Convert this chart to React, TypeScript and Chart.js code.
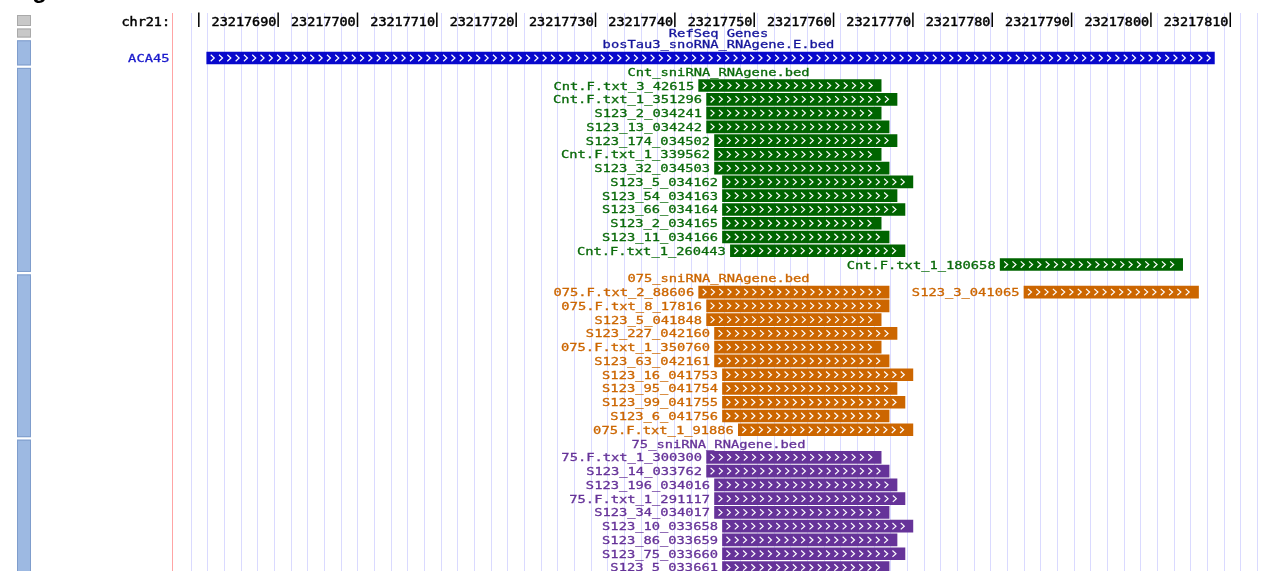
import React, { useEffect, useRef } from 'react';
import { Chart, registerables } from 'chart.js';

Chart.register(...registerables);

// ---------------- data ----------------
const chromLabel = 'chr21:';
const rulerTicks = [23217680, 23217690, 23217700, 23217710, 23217720, 23217730, 23217740, 23217750, 23217760, 23217770, 23217780, 23217790, 23217800, 23217810];
const rulerLabels = ['', '23217690', '23217700', '23217710', '23217720', '23217730', '23217740', '23217750', '23217760', '23217770', '23217780', '23217790', '23217800', '23217810'];

const refSeqTitle = 'RefSeq Genes';

const snoTitle = 'bosTau3_snoRNA_RNAgene.E.bed';
const snoNames = ['ACA45'];
const snoStarts = [23217681];
const snoEnds = [23217808];
const snoLanes = [0];

const cntTitle = 'Cnt_sniRNA_RNAgene.bed';
const cntNames = ['Cnt.F.txt_3_42615', 'Cnt.F.txt_1_351296', 'S123_2_034241', 'S123_13_034242', 'S123_174_034502', 'Cnt.F.txt_1_339562', 'S123_32_034503', 'S123_5_034162', 'S123_54_034163', 'S123_66_034164', 'S123_2_034165', 'S123_11_034166', 'Cnt.F.txt_1_260443', 'Cnt.F.txt_1_180658'];
const cntStarts = [23217743, 23217744, 23217744, 23217744, 23217745, 23217745, 23217745, 23217746, 23217746, 23217746, 23217746, 23217746, 23217747, 23217781];
const cntEnds = [23217766, 23217768, 23217766, 23217767, 23217768, 23217766, 23217767, 23217770, 23217768, 23217769, 23217766, 23217767, 23217769, 23217804];
const cntLanes = [0, 1, 2, 3, 4, 5, 6, 7, 8, 9, 10, 11, 12, 13];

const o75Title = '075_sniRNA_RNAgene.bed';
const o75Names = ['075.F.txt_2_88606', 'S123_3_041065', '075.F.txt_8_17816', 'S123_5_041848', 'S123_227_042160', '075.F.txt_1_350760', 'S123_63_042161', 'S123_16_041753', 'S123_95_041754', 'S123_99_041755', 'S123_6_041756', '075.F.txt_1_91886'];
const o75Starts = [23217743, 23217784, 23217744, 23217744, 23217745, 23217745, 23217745, 23217746, 23217746, 23217746, 23217746, 23217748];
const o75Ends = [23217767, 23217806, 23217767, 23217766, 23217768, 23217766, 23217767, 23217770, 23217768, 23217769, 23217767, 23217770];
const o75Lanes = [0, 0, 1, 2, 3, 4, 5, 6, 7, 8, 9, 10];

const p75Title = '75_sniRNA_RNAgene.bed';
const p75Names = ['75.F.txt_1_300300', 'S123_14_033762', 'S123_196_034016', '75.F.txt_1_291117', 'S123_34_034017', 'S123_10_033658', 'S123_86_033659', 'S123_75_033660', 'S123_5_033661'];
const p75Starts = [23217744, 23217744, 23217745, 23217745, 23217745, 23217746, 23217746, 23217746, 23217746];
const p75Ends = [23217766, 23217767, 23217768, 23217769, 23217767, 23217770, 23217768, 23217769, 23217767];
const p75Lanes = [0, 1, 2, 3, 4, 5, 6, 7, 8];

// ---------------- styling / layout ----------------
const W = 1262;
const H = 571;
const X_MIN = 23217677;
const X_MAX = 23217814;
const Y_MIN = -0.34;
const Y_MAX = 40.255;
const RULER_ROW = 0.35;
const REFSEQ_ROW = 1.15;
const LABEL_AREA_RIGHT = 172.5;
const GRID_START = 190.7;
const GRID_STEP = 16.66;
const GRID_TOP = 13;
const MONO = '"DejaVu Sans Mono", monospace';
const LABEL_FONT = `11px ${MONO}`;
const RULER_FONT = `12px ${MONO}`;
const SX = 1.25;
const CHEVRON_STEP = 8.3;

interface Track {
  title: string;
  titleColor: string;
  color: string;
  textColor: string;
  names: string[];
  starts: number[];
  ends: number[];
  lanes: number[];
  gutterLabels: boolean;
  titleRow: number;
  lastRow: number;
}

function buildTracks(): Track[] {
  const defs = [
    { title: snoTitle, titleColor: '#15159c', color: '#0808cc', textColor: '#1a1acc', names: snoNames, starts: snoStarts, ends: snoEnds, lanes: snoLanes, gutterLabels: true },
    { title: cntTitle, titleColor: '#0b6b0b', color: '#006400', textColor: '#0b6b0b', names: cntNames, starts: cntStarts, ends: cntEnds, lanes: cntLanes, gutterLabels: false },
    { title: o75Title, titleColor: '#cc6600', color: '#cc6600', textColor: '#cc6600', names: o75Names, starts: o75Starts, ends: o75Ends, lanes: o75Lanes, gutterLabels: false },
    { title: p75Title, titleColor: '#663399', color: '#663399', textColor: '#663399', names: p75Names, starts: p75Starts, ends: p75Ends, lanes: p75Lanes, gutterLabels: false },
  ];
  let row = 2;
  return defs.map((d) => {
    const titleRow = row;
    const nLanes = Math.max(...d.lanes) + 1;
    const lastRow = titleRow + nLanes;
    row = lastRow + 1;
    return { ...d, titleRow, lastRow };
  });
}

function drawText(ctx: CanvasRenderingContext2D, text: string, x: number, baseline: number, align: CanvasTextAlign, font: string, color: string, sx: number, stroke = 0) {
  ctx.save();
  ctx.font = font;
  ctx.fillStyle = color;
  ctx.textAlign = align;
  ctx.textBaseline = 'alphabetic';
  ctx.translate(x, baseline);
  ctx.scale(sx, 1);
  ctx.fillText(text, 0, 0);
  if (stroke > 0) {
    ctx.strokeStyle = color;
    ctx.lineWidth = stroke;
    ctx.strokeText(text, 0, 0);
  }
  ctx.restore();
}

export default function App() {
  const ref = useRef<HTMLCanvasElement | null>(null);

  useEffect(() => {
    const canvas = ref.current;
    if (!canvas) return;
    const tracks = buildTracks();

    const backdrop = {
      id: 'ucscBackdrop',
      beforeDatasetsDraw(chart: any) {
        const ctx: CanvasRenderingContext2D = chart.ctx;
        const xs = chart.scales.x;
        const ys = chart.scales.y;
        const area = chart.chartArea;
        ctx.save();
        ctx.fillStyle = '#ffffff';
        ctx.fillRect(0, 0, W, H);

        // figure title remnant (cut off at top)
        ctx.font = 'bold 24px "Liberation Sans", Arial, sans-serif';
        ctx.fillStyle = '#000';
        ctx.textAlign = 'left';
        ctx.textBaseline = 'alphabetic';
        ctx.fillText('Figure', 11, -2);

        // grid guidelines
        ctx.strokeStyle = '#dadaff';
        ctx.lineWidth = 1;
        for (let gx = GRID_START; gx < W; gx += GRID_STEP) {
          const px = Math.round(gx) + 0.5;
          ctx.beginPath();
          ctx.moveTo(px, GRID_TOP);
          ctx.lineTo(px, H);
          ctx.stroke();
        }
        // label area boundary
        ctx.strokeStyle = '#ffa4a4';
        ctx.beginPath();
        ctx.moveTo(LABEL_AREA_RIGHT, GRID_TOP);
        ctx.lineTo(LABEL_AREA_RIGHT, H);
        ctx.stroke();

        // side buttons
        const btn = (y0: number, y1: number, fill: string, edge: string) => {
          ctx.fillStyle = fill;
          ctx.fillRect(17, y0, 14, y1 - y0);
          ctx.strokeStyle = edge;
          ctx.lineWidth = 1;
          ctx.strokeRect(17.5, y0 + 0.5, 13, y1 - y0 - 1);
        };
        const rulerY = ys.getPixelForValue(RULER_ROW);
        const refY = ys.getPixelForValue(REFSEQ_ROW);
        btn(rulerY - 6.5, rulerY + 4.5, '#c8c8c8', '#a9a9a9');
        btn(refY - 4, refY + 5, '#c8c8c8', '#a9a9a9');
        tracks.forEach((t) => {
          const top = ys.getPixelForValue(t.titleRow - 0.5) + 3;
          const bot = Math.min(H + 2, ys.getPixelForValue(t.lastRow + 0.5) + 0.5);
          btn(top, bot, '#9db9e2', '#7f9dcc');
        });

        // ruler
        drawText(ctx, chromLabel, LABEL_AREA_RIGHT - 2.5, rulerY + 4.8, 'right', RULER_FONT, '#000', 1.12, 0.45);
        rulerTicks.forEach((tk, i) => {
          const px = xs.getPixelForValue(tk);
          ctx.fillStyle = '#000';
          ctx.fillRect(px - 0.75, rulerY - 9, 1.5, 14.5);
          const lab = rulerLabels[i];
          if (lab) drawText(ctx, lab, px - 1.8, rulerY + 4.8, 'right', RULER_FONT, '#000', 1.12, 0.45);
        });

        const cx = (area.left + area.right) / 2;
        drawText(ctx, refSeqTitle, cx, refY + 4, 'center', LABEL_FONT, '#15159c', SX, 0.3);

        // track titles and feature labels
        tracks.forEach((t) => {
          const ty = ys.getPixelForValue(t.titleRow);
          drawText(ctx, t.title, cx, ty + 4, 'center', LABEL_FONT, t.titleColor, SX, 0.3);
          t.names.forEach((nm, i) => {
            const fy = ys.getPixelForValue(t.titleRow + 1 + t.lanes[i]);
            const lx = t.gutterLabels ? LABEL_AREA_RIGHT - 3 : xs.getPixelForValue(t.starts[i]) - 4.5;
            drawText(ctx, nm, lx, fy + 4, 'right', LABEL_FONT, t.textColor, SX, 0.3);
          });
        });
        ctx.restore();
      },
    };

    const chevrons = {
      id: 'chevrons',
      afterDatasetsDraw(chart: any) {
        const ctx: CanvasRenderingContext2D = chart.ctx;
        ctx.save();
        ctx.strokeStyle = '#ffffff';
        ctx.lineWidth = 1.2;
        chart.data.datasets.forEach((_d: any, di: number) => {
          const meta = chart.getDatasetMeta(di);
          meta.data.forEach((el: any) => {
            const p = el.getProps(['x', 'base', 'y'], true);
            const left = Math.min(p.x, p.base);
            const right = Math.max(p.x, p.base);
            for (let c = left + 4; c + 3.5 <= right - 2; c += CHEVRON_STEP) {
              ctx.beginPath();
              ctx.moveTo(c, p.y - 3.2);
              ctx.lineTo(c + 3.5, p.y);
              ctx.lineTo(c, p.y + 3.2);
              ctx.stroke();
            }
          });
        });
        ctx.restore();
      },
    };

    const chart = new Chart(canvas, {
      type: 'bar',
      data: {
        datasets: tracks.map((t) => ({
          label: t.title,
          data: t.names.map((_n, i) => ({ x: [t.starts[i], t.ends[i]], y: t.titleRow + 1 + t.lanes[i] })),
          backgroundColor: t.color,
          borderWidth: 0,
          barThickness: 12,
          grouped: false,
        })) as any,
      },
      options: {
        indexAxis: 'y',
        responsive: false,
        animation: false,
        devicePixelRatio: 1,
        layout: { padding: { left: 175, right: 0, top: 12, bottom: 0 } },
        scales: {
          x: { type: 'linear', min: X_MIN, max: X_MAX, display: false, offset: false },
          y: { type: 'linear', min: Y_MIN, max: Y_MAX, reverse: true, display: false, offset: false },
        },
        plugins: { legend: { display: false }, tooltip: { enabled: false } },
      } as any,
      plugins: [backdrop, chevrons],
    });
    return () => chart.destroy();
  }, []);

  return (
    <div style={{ position: 'absolute', left: 0, top: 0, width: W, height: H, background: '#fff' }}>
      <canvas ref={ref} width={W} height={H} style={{ display: 'block', width: W, height: H }} />
    </div>
  );
}
